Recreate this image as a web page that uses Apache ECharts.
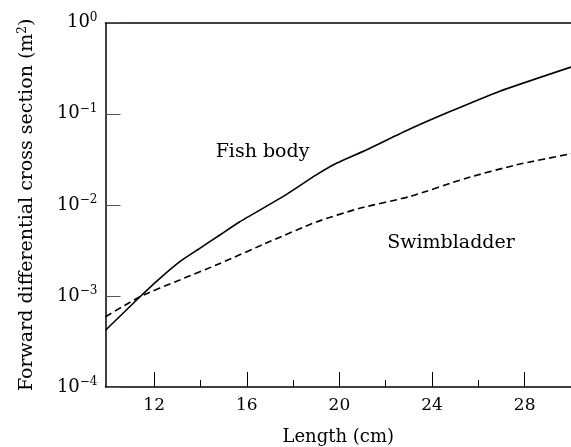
<!DOCTYPE html>
<html>
<head>
<meta charset="utf-8">
<script src="https://cdn.jsdelivr.net/npm/echarts@6/dist/echarts.min.js"></script>
<style>html,body{margin:0;padding:0;background:#fff}#c{width:571px;height:447px}</style>
</head>
<body>
<div id="c"></div>
<script>
// Fish body (solid) : length (cm) -> forward differential cross section (m^2)
const fishLength = [9.9, 11.39, 12.25, 13.11, 13.97, 14.84, 15.7, 17.56, 19.0, 19.87, 21.16, 23.02, 24.75, 26.9, 30];
const fishValue  = [4.2e-4, 9.8e-4, 1.56e-3, 2.38e-3, 3.33e-3, 4.67e-3, 6.53e-3, 1.23e-2, 2.13e-2, 2.86e-2, 4.0e-2, 6.75e-2, 0.105, 0.176, 0.326];
// Swimbladder (dashed)
const bladderLength = [9.9, 11.39, 13.11, 14.84, 16.99, 19.0, 20.87, 23.02, 25.47, 27.62, 30];
const bladderValue  = [5.9e-4, 9.8e-4, 1.5e-3, 2.27e-3, 3.95e-3, 6.48e-3, 9.16e-3, 1.23e-2, 1.96e-2, 2.74e-2, 3.64e-2];
const xMajorTicks = [12, 16, 20, 24, 28];
const xMinorTicks = [14, 18, 22, 26];
const fishLabel = {text: 'Fish body', x: 16.68, y: 0.038};
const bladderLabel = {text: 'Swimbladder', x: 24.82, y: 3.84e-3};

const FONT = 'DejaVu Serif';
const chart = echarts.init(document.getElementById('c'), null, {renderer: 'canvas'});
const zip = (a, b) => a.map((v, i) => [v, b[i]]);

chart.setOption({
  animation: false,
  backgroundColor: '#fff',
  grid: {left: 105.5, right: 0, top: 22.7, bottom: 60, outerBoundsMode: 'none', containLabel: false},
  xAxis: [
    {
      type: 'value', position: 'bottom', min: 9.9, max: 30,
      name: 'Length (cm)', nameLocation: 'middle', nameGap: 41,
      nameTextStyle: {fontFamily: FONT, fontSize: 18, color: '#000'},
      axisLine: {show: true, lineStyle: {color: '#000', width: 1.5}},
      axisTick: {show: true, inside: true, length: 15, customValues: xMajorTicks, lineStyle: {color: '#000', width: 1}},
      axisLabel: {customValues: xMajorTicks, margin: 10, fontFamily: FONT, fontSize: 17, color: '#000'},
      splitLine: {show: false}
    },
    {
      type: 'value', position: 'bottom', min: 9.9, max: 30,
      axisLine: {show: false},
      axisTick: {show: true, inside: true, length: 7, customValues: xMinorTicks, lineStyle: {color: '#000', width: 1}},
      axisLabel: {show: false},
      splitLine: {show: false}
    },
    {
      type: 'value', position: 'top', min: 9.9, max: 30,
      axisLine: {show: true, lineStyle: {color: '#000', width: 1.5}},
      axisTick: {show: false}, axisLabel: {show: false}, splitLine: {show: false}
    }
  ],
  yAxis: {
    type: 'log', logBase: 10, min: 1e-4, max: 1,
    name: 'Forward differential cross section (m{sup|2})',
    nameLocation: 'middle', nameRotate: 90, nameGap: 67,
    nameTextStyle: {fontFamily: FONT, fontSize: 19, color: '#000',
      rich: {sup: {fontFamily: FONT, fontSize: 12, color: '#000', padding: [0, 0, 10, 0]}}},
    axisLine: {show: true, lineStyle: {color: '#000', width: 1.5}},
    axisTick: {show: true, inside: true, length: 15, lineStyle: {color: '#555', width: 1}},
    axisLabel: {
      margin: 8, color: '#000',
      formatter: function (v) {
        const e = Math.round(Math.log10(v));
        return '{b|10}{s|' + (e < 0 ? '\u2212' + (-e) : e) + '}';
      },
      rich: {
        b: {fontFamily: FONT, fontSize: 18, color: '#000'},
        s: {fontFamily: FONT, fontSize: 12, color: '#000', padding: [0, 0, 10, 0]}
      }
    },
    splitLine: {show: false}
  },
  series: [
    {
      type: 'line', xAxisIndex: 0, smooth: 0.2, showSymbol: false, symbol: 'none',
      data: zip(fishLength, fishValue),
      lineStyle: {color: '#000', width: 1.6, type: 'solid'}
    },
    {
      type: 'line', xAxisIndex: 0, smooth: 0.2, showSymbol: false, symbol: 'none',
      data: zip(bladderLength, bladderValue),
      lineStyle: {color: '#000', width: 1.6, type: [7, 4]}
    },
    {
      type: 'scatter', xAxisIndex: 0, symbolSize: 1,
      itemStyle: {color: 'rgba(0,0,0,0)'},
      label: {show: true, position: 'inside', formatter: function (p) { return p.data[2]; },
        fontFamily: FONT, fontSize: 19, color: '#000', textBorderWidth: 0, opacity: 1},
      data: [[fishLabel.x, fishLabel.y, fishLabel.text], [bladderLabel.x, bladderLabel.y, bladderLabel.text]]
    }
  ]
});
</script>
</body>
</html>
